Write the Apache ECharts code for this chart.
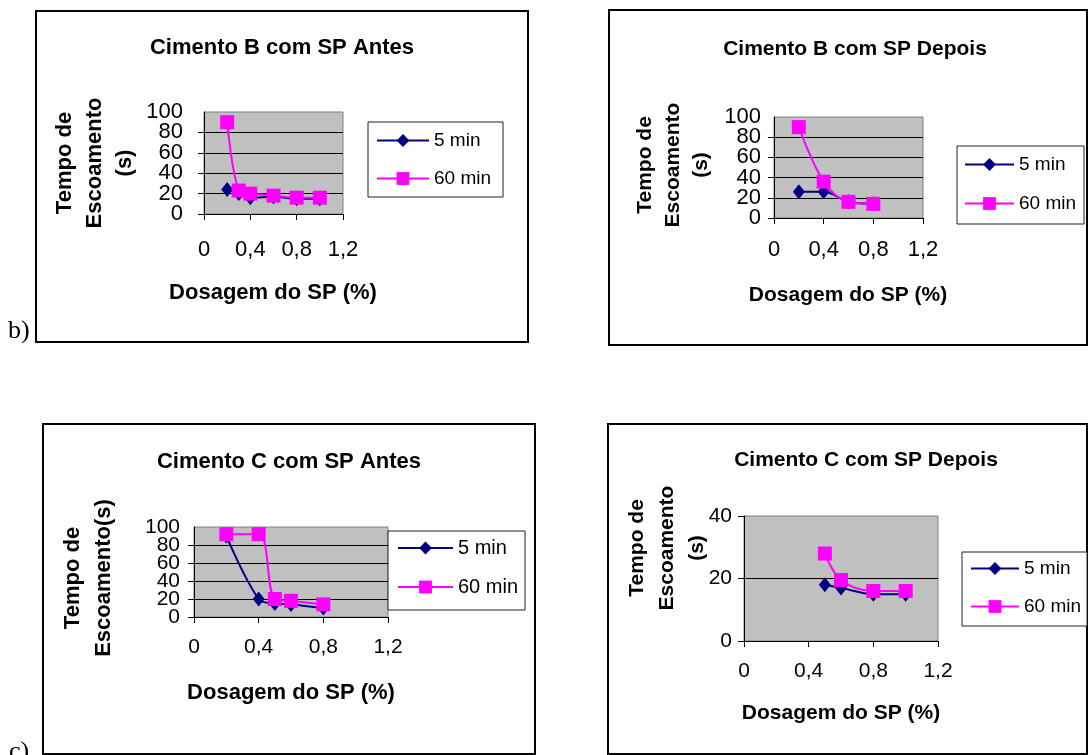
<!DOCTYPE html>
<html>
<head>
<meta charset="utf-8">
<script src="https://cdn.jsdelivr.net/npm/echarts@6/dist/echarts.min.js"></script>
<style>
  html, body { margin: 0; padding: 0; background: #fff; }
  #main { width: 1088px; height: 755px; }
</style>
</head>
<body>
<div id="main"></div>
<script>
// dados (Dosagem do SP em %, tempo em s)
var doseBAntes = [0.2, 0.3, 0.4, 0.6, 0.8, 1.0];
var bAntes5 = [24, 20, 16, 17, 15, 15];
var bAntes60 = [90, 23, 20, 18, 16, 16];

var doseBDepois = [0.2, 0.4, 0.6, 0.8];
var bDepois5 = [26, 26, 16, 14];
var bDepois60 = [90, 36, 16, 14];

var doseCAntes = [0.2, 0.4, 0.5, 0.6, 0.8];
var cAntes5 = [90, 20, 15, 14, 10];
var cAntes60 = [92, 92, 20, 18, 14];

var doseCDepois = [0.5, 0.6, 0.8, 1.0];
var cDepois5 = [18, 17, 15, 15];
var cDepois60 = [28, 19.5, 16, 16];

var seriesNames = ['5 min', '60 min'];
var titles = ['Cimento B com SP Antes', 'Cimento B com SP Depois', 'Cimento C com SP Antes', 'Cimento C com SP Depois'];
var yTitles = ['Tempo de\nEscoamento\n(s)', 'Tempo de\nEscoamento\n(s)', 'Tempo de\nEscoamento(s)', 'Tempo de\nEscoamento\n(s)'];
var xTitle = 'Dosagem do SP (%)';
var xMax = 1.2, xStep = 0.4;
var yMaxList = [100, 100, 100, 40];
var yStep = 20;

var F = 'Arial, "Liberation Sans", sans-serif';

function pares(xs, ys) {
    var out = [];
    for (var i = 0; i < xs.length; i++) out.push([xs[i], ys[i]]);
    return out;
}

var dados = [
    [pares(doseBAntes, bAntes5), pares(doseBAntes, bAntes60)],
    [pares(doseBDepois, bDepois5), pares(doseBDepois, bDepois60)],
    [pares(doseCAntes, cAntes5), pares(doseCAntes, cAntes60)],
    [pares(doseCDepois, cDepois5), pares(doseCDepois, cDepois60)]
];

// posicao dos 4 graficos
var grids = [
    {left: 204, top: 112, width: 139, height: 102},
    {left: 774, top: 117, width: 149, height: 101},
    {left: 194, top: 527, width: 194, height: 90},
    {left: 744, top: 516, width: 194, height: 125}
];
var yMargins = [21, 13, 14, 12];
var xMargins = [25, 21, 20, 20];
var tickFont = [22, 22, 21, 21];

// os rotulos do eixo y se encostam no original e o echarts esconde os que sobrepoem,
// entao divido em dois eixos: um com os rotulos pares (0,40,80) e outro com os impares (20,60,100)
function rotuloPar(v) { return Math.round(v / yStep) % 2 === 0 ? String(v) : ''; }
function rotuloImpar(v) { return Math.round(v / yStep) % 2 === 1 ? String(v) : ''; }

var chart = echarts.init(document.getElementById('main'), null, {renderer: 'canvas'});

var option = {
    backgroundColor: '#fff',
    animation: false,
    grid: [],
    xAxis: [],
    yAxis: [],
    series: [],
    legend: [],
    graphic: []
};

for (var g = 0; g < 4; g++) {
    var maxPar = Math.round(yMaxList[g] / yStep) % 2 === 0;
    option.grid.push({
        left: grids[g].left, top: grids[g].top, width: grids[g].width, height: grids[g].height,
        show: true, backgroundColor: '#c0c0c0', borderColor: '#808080', borderWidth: 1
    });
    option.xAxis.push({
        type: 'value', gridIndex: g, min: 0, max: xMax, interval: xStep,
        axisLine: {show: true, lineStyle: {color: '#000', width: 1}},
        axisTick: {show: true, inside: false, length: 6, lineStyle: {color: '#000'}},
        splitLine: {show: false},
        axisLabel: {
            color: '#000', fontSize: tickFont[g], fontFamily: F, margin: xMargins[g],
            showMinLabel: true, showMaxLabel: true,
            formatter: function (v) { return String(v).replace('.', ','); }
        }
    });
    // eixo principal (linhas, ticks, grade e rotulos pares)
    option.yAxis.push({
        type: 'value', gridIndex: g, position: 'left', min: 0, max: yMaxList[g], interval: yStep,
        axisLine: {show: true, lineStyle: {color: '#000', width: 1}},
        axisTick: {show: true, inside: false, length: 6, lineStyle: {color: '#000'}},
        splitLine: {show: true, showMaxLine: false, lineStyle: {color: '#000', width: 1}},
        axisLabel: {
            color: '#000', fontSize: tickFont[g], fontFamily: F, margin: yMargins[g],
            showMinLabel: true, showMaxLabel: maxPar, formatter: rotuloPar
        }
    });
    // eixo auxiliar so com os rotulos impares
    option.yAxis.push({
        type: 'value', gridIndex: g, position: 'left', offset: 0, min: 0, max: yMaxList[g], interval: yStep,
        axisLine: {show: false}, axisTick: {show: false}, splitLine: {show: false},
        axisLabel: {
            color: '#000', fontSize: tickFont[g], fontFamily: F, margin: yMargins[g],
            showMinLabel: false, showMaxLabel: !maxPar, formatter: rotuloImpar
        }
    });
    // 5 min
    option.series.push({
        name: seriesNames[0], type: 'line', xAxisIndex: g, yAxisIndex: 2 * g,
        data: dados[g][0], smooth: 0.35,
        symbol: 'diamond', symbolSize: [12, 15],
        lineStyle: {color: '#000080', width: 2},
        itemStyle: {color: '#000080'}
    });
    // 60 min
    option.series.push({
        name: seriesNames[1], type: 'line', xAxisIndex: g, yAxisIndex: 2 * g,
        data: dados[g][1], smooth: 0.35,
        symbol: 'rect', symbolSize: 14,
        lineStyle: {color: '#ff00ff', width: 2},
        itemStyle: {color: '#ff00ff'}
    });
}

// legendas
var legPos = [
    {left: 368, top: 122, padding: [9, 12, 9, 8], itemWidth: 52, itemGap: 19, fs: 19},
    {left: 957, top: 146, padding: [9, 8, 11, 7], itemWidth: 49, itemGap: 20, fs: 19},
    {left: 388, top: 531, padding: [7, 7, 13, 9], itemWidth: 55, itemGap: 19, fs: 20},
    {left: 962, top: 552, padding: [7, 6, 10, 8], itemWidth: 48, itemGap: 19, fs: 19}
];
legPos.forEach(function (p) {
    option.legend.push({
        data: seriesNames, orient: 'vertical', left: p.left, top: p.top,
        padding: p.padding, itemWidth: p.itemWidth, itemHeight: 16, itemGap: p.itemGap,
        backgroundColor: '#fff', borderColor: '#222', borderWidth: 1, borderRadius: 0,
        selectedMode: false,
        textStyle: {color: '#000', fontSize: p.fs, fontFamily: F}
    });
});

// molduras
var frames = [
    {x: 36, y: 11, w: 492, h: 331},
    {x: 609, y: 10, w: 478, h: 335},
    {x: 43, y: 424, w: 492, h: 330},
    {x: 608, y: 424, w: 479, h: 330}
];
frames.forEach(function (f) {
    option.graphic.push({
        type: 'rect', shape: {x: f.x, y: f.y, width: f.w, height: f.h},
        style: {fill: null, stroke: '#000', lineWidth: 2}, z: -1
    });
});

// titulos
var titlePos = [[282, 48, 22], [855, 49, 21], [289, 462, 22], [866, 460, 21]];
var yTitlePos = [[95, 163, 30, 22], [673, 165, 28, 21], [88, 578, 31, 22], [667, 548, 30, 21]];
var xTitlePos = [[273, 293, 22], [848, 295, 21], [291, 693, 22], [841, 713, 21]];
for (var t = 0; t < 4; t++) {
    option.graphic.push({
        type: 'text', x: titlePos[t][0], y: titlePos[t][1],
        style: {text: titles[t], font: 'bold ' + titlePos[t][2] + 'px ' + F, fill: '#000',
                textAlign: 'center', textVerticalAlign: 'middle'}
    });
    option.graphic.push({
        type: 'text', x: yTitlePos[t][0], y: yTitlePos[t][1], rotation: Math.PI / 2,
        style: {text: yTitles[t], font: 'bold ' + yTitlePos[t][3] + 'px ' + F, fill: '#000',
                lineHeight: yTitlePos[t][2], textAlign: 'center', textVerticalAlign: 'middle'}
    });
    option.graphic.push({
        type: 'text', x: xTitlePos[t][0], y: xTitlePos[t][1],
        style: {text: xTitle, font: 'bold ' + xTitlePos[t][2] + 'px ' + F, fill: '#000',
                textAlign: 'center', textVerticalAlign: 'middle'}
    });
}

// b) e c)
option.graphic.push({
    type: 'text', x: 8, y: 331,
    style: {text: 'b)', font: '26px "Liberation Serif", "Times New Roman", serif', fill: '#000',
            textAlign: 'left', textVerticalAlign: 'middle'}
});
option.graphic.push({
    type: 'text', x: 9, y: 752,
    style: {text: 'c)', font: '26px "Liberation Serif", "Times New Roman", serif', fill: '#000',
            textAlign: 'left', textVerticalAlign: 'middle'}
});

chart.setOption(option);
</script>
</body>
</html>
